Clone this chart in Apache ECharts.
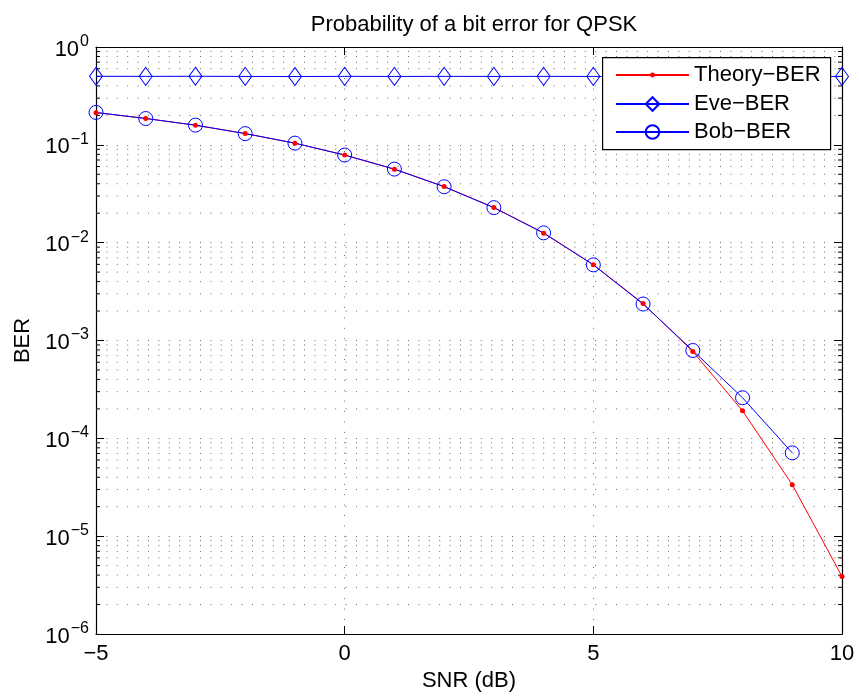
<!DOCTYPE html>
<html>
<head>
<meta charset="utf-8">
<script src="https://cdn.jsdelivr.net/npm/echarts@6/dist/echarts.min.js"></script>
<style>html,body{margin:0;padding:0;background:#fff}#c{width:859px;height:697px}</style>
</head>
<body>
<div id="c"></div>
<script>
const snr = [-5, -4, -3, -2, -1, 0, 1, 2, 3, 4, 5, 6, 7, 8, 9, 10];
const theoryBER = [0.2132, 0.1861, 0.1584, 0.1306, 0.1038, 0.0786, 0.0563, 0.0375, 0.0229, 0.0125, 0.00595, 0.00239, 0.000773, 0.000191, 0.0000336, 0.00000387];
const eveBER = [0.502, 0.501, 0.502, 0.500, 0.499, 0.501, 0.500, 0.501, 0.500, 0.501, 0.500, 0.499, 0.500, 0.501, 0.500, 0.500];
const bobSNR = [-5, -4, -3, -2, -1, 0, 1, 2, 3, 4, 5, 6, 7, 8, 9];
const bobBER = [0.2145, 0.1858, 0.1590, 0.1302, 0.1041, 0.0787, 0.0565, 0.0373, 0.0228, 0.0126, 0.00593, 0.00236, 0.00079, 0.00026, 0.000071];
const xTicks = [-5, 0, 5, 10];
const yDecades = [-6, -5, -4, -3, -2, -1, 0];
const minorMultipliers = [2, 3, 4, 5, 6, 7, 8, 9];

const FONT = "'Liberation Sans', Arial, Helvetica, sans-serif";
const FS = 22;
const xMin = xTicks[0], xMax = xTicks[xTicks.length - 1];
const yMin = Math.pow(10, yDecades[0]), yMax = Math.pow(10, yDecades[yDecades.length - 1]);

const minorValues = [];
yDecades.slice(0, -1).forEach(d => minorMultipliers.forEach(m => minorValues.push(m * Math.pow(10, d))));

const names = ['Theory\u2212BER', 'Eve\u2212BER', 'Bob\u2212BER'];
const blue = '#0000ff', red = '#ff0000';

function supLabel(v) {
  const e = Math.round(Math.log10(v));
  const s = e < 0 ? '\u2212' + (-e) : String(e);
  return '{b|10}{s|' + s + '}';
}
const dotted = {type: [1, 9.4], color: '#6a6a6a', width: 1};

const chart = echarts.init(document.getElementById('c'), null, {renderer: 'canvas'});
chart.setOption({
  animation: false,
  backgroundColor: '#fff',
  textStyle: {fontFamily: FONT},
  title: {
    text: 'Probability of a bit error for QPSK',
    left: 469, top: 9, textAlign: 'center',
    textStyle: {fontFamily: FONT, fontSize: FS, fontWeight: 'normal', color: '#000'}
  },
  grid: {left: 96, right: 17, top: 47, bottom: 62, containLabel: false},
  xAxis: [{
    type: 'value', min: xMin, max: xMax, interval: 5, position: 'bottom',
    name: 'SNR (dB)', nameLocation: 'middle', nameGap: 36,
    nameTextStyle: {fontFamily: FONT, fontSize: FS, color: '#000'},
    axisLine: {show: true, onZero: false, lineStyle: {color: '#000', width: 1.2}},
    axisTick: {show: true, inside: true, length: 8, lineStyle: {color: '#000'}},
    axisLabel: {
      margin: 9, fontFamily: FONT, fontSize: FS, color: '#000',
      formatter: v => (v < 0 ? '\u2212' + (-v) : String(v))
    },
    splitLine: {show: true, lineStyle: dotted}
  }, {
    type: 'value', min: xMin, max: xMax, interval: 5, position: 'top',
    axisLine: {show: true, onZero: false, lineStyle: {color: '#000', width: 1.2}},
    axisTick: {show: true, inside: true, length: 8, lineStyle: {color: '#000'}},
    axisLabel: {show: false}, splitLine: {show: false}
  }],
  yAxis: [{
    type: 'log', logBase: 10, min: yMin, max: yMax, splitNumber: 6, position: 'left',
    name: 'BER', nameLocation: 'middle', nameGap: 61, nameRotate: 90,
    nameTextStyle: {fontFamily: FONT, fontSize: FS, color: '#000'},
    axisLine: {show: true, onZero: false, lineStyle: {color: '#000', width: 1.2}},
    axisTick: {show: true, inside: true, length: 8, lineStyle: {color: '#000'}},
    axisLabel: {
      margin: 7, color: '#000', formatter: supLabel,
      rich: {
        b: {fontFamily: FONT, fontSize: FS, color: '#000', verticalAlign: 'bottom', padding: [0, 1, 0, 0]},
        s: {fontFamily: FONT, fontSize: 16, color: '#000', verticalAlign: 'bottom', padding: [0, 0, 11, 0]}
      },
      padding: [0, 0, 0, 0]
    },
    splitLine: {show: true, lineStyle: dotted}
  }, {
    type: 'log', logBase: 10, min: yMin, max: yMax, splitNumber: 6, position: 'right',
    axisLine: {show: true, onZero: false, lineStyle: {color: '#000', width: 1.2}},
    axisTick: {show: true, inside: true, length: 8, lineStyle: {color: '#000'}},
    axisLabel: {show: false}, splitLine: {show: false}
  }],
  legend: [{
    data: [names[0]], orient: 'vertical', left: 615, top: 64, padding: 0,
    itemWidth: 73, itemHeight: 6, itemGap: 6, selectedMode: false, z: 10,
    textStyle: {fontFamily: FONT, fontSize: FS, color: '#000', lineHeight: 22}
  }, {
    data: [names[1], names[2]], orient: 'vertical', left: 615, top: 93, padding: 0,
    itemWidth: 73, itemHeight: 17, itemGap: 6, selectedMode: false, z: 10,
    textStyle: {fontFamily: FONT, fontSize: FS, color: '#000', lineHeight: 22}
  }],
  graphic: [{
    type: 'rect', left: 602, top: 57, z: 5, silent: true,
    shape: {width: 228, height: 92},
    style: {fill: '#fff', stroke: '#000', lineWidth: 1.2}
  }],
  series: [{
    type: 'custom', name: 'minorGrid', silent: true, z: 1, clip: false,
    data: minorValues.map(v => [xMin, v]),
    renderItem: function (params, api) {
      const v = api.value(1);
      const p0 = api.coord([xMin, v]);
      const p1 = api.coord([xMax, v]);
      return {type: 'group', children: [
        {type: 'line', shape: {x1: p0[0], y1: p0[1], x2: p1[0], y2: p1[1]},
         style: {stroke: '#6a6a6a', lineWidth: 1, lineDash: [1, 9.4]}},
        {type: 'line', shape: {x1: p0[0], y1: p0[1], x2: p0[0] + 4, y2: p0[1]},
         style: {stroke: '#000', lineWidth: 1}},
        {type: 'line', shape: {x1: p1[0] - 4, y1: p1[1], x2: p1[0], y2: p1[1]},
         style: {stroke: '#000', lineWidth: 1}}
      ]};
    }
  }, {
    type: 'line', name: names[0], clip: false, z: 3,
    data: snr.map((x, i) => [x, theoryBER[i]]),
    symbol: 'circle', symbolSize: 5,
    itemStyle: {color: red},
    lineStyle: {color: red, width: 1}
  }, {
    type: 'line', name: names[1], clip: false, z: 3,
    data: snr.map((x, i) => [x, eveBER[i]]),
    symbol: 'diamond', symbolSize: [13, 18],
    itemStyle: {color: 'rgba(0,0,0,0)', borderColor: blue, borderWidth: 1},
    lineStyle: {color: blue, width: 1}
  }, {
    type: 'line', name: names[2], clip: false, z: 3,
    data: bobSNR.map((x, i) => [x, bobBER[i]]),
    symbol: 'circle', symbolSize: 14,
    itemStyle: {color: 'rgba(0,0,0,0)', borderColor: blue, borderWidth: 1},
    lineStyle: {color: blue, width: 1}
  }]
});
</script>
</body>
</html>
